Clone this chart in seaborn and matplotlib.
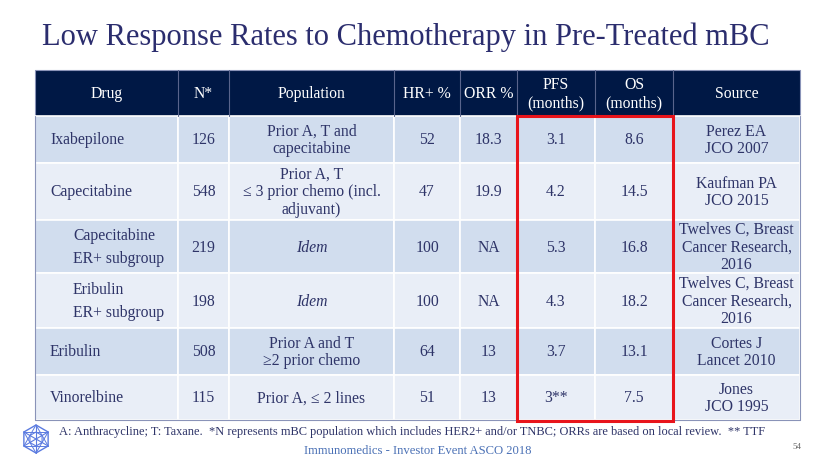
import numpy as np
import matplotlib.pyplot as plt
import seaborn as sns
from matplotlib.patches import Rectangle, RegularPolygon

sns.set_theme(style='white')
plt.rcParams['font.family'] = ['Liberation Serif', 'DejaVu Serif']

headers = ['Drug', 'N*', 'Population', 'HR+ %', 'ORR %', 'PFS\n(months)', 'OS\n(months)', 'Source']
drugs = ['Ixabepilone', 'Capecitabine', 'Capecitabine\nER+ subgroup', 'Eribulin\nER+ subgroup',
         'Eribulin', 'Vinorelbine']
subgroup = [False, False, True, True, False, False]
n_pts = ['126', '548', '219', '198', '508', '115']
population = ['Prior A, T and\ncapecitabine', 'Prior A, T\n\u2264 3 prior chemo (incl.\nadjuvant)',
              'Idem', 'Idem', 'Prior A and T\n\u22652 prior chemo', 'Prior A, \u2264 2 lines']
hr_pct = ['52', '47', '100', '100', '64', '51']
orr_pct = ['18.3', '19.9', 'NA', 'NA', '13', '13']
pfs = ['3.1', '4.2', '5.3', '4.3', '3.7', '3**']
os_months = ['8.6', '14.5', '16.8', '18.2', '13.1', '7.5']
source = ['Perez EA\nJCO 2007', 'Kaufman PA\nJCO 2015', 'Twelves C, Breast\nCancer Research,\n2016',
          'Twelves C, Breast\nCancer Research,\n2016', 'Cortes J\nLancet 2010', 'Jones\nJCO 1995']

col_edges = [35, 178, 229, 394, 460, 517, 595, 673, 800]
row_edges = [70, 116, 163, 220, 273, 328, 375, 420]

navy = '#001845'
text_c = '#2e3468'
row_colors = ['#d1ddee', '#e9eef7']
fs = 11.3

fig = plt.figure(figsize=(8.3, 4.67), dpi=100)
ax = fig.add_axes([0, 0, 1, 1])
ax.set_xlim(0, 830)
ax.set_ylim(467, 0)
ax.axis('off')

ax.text(42, 37, 'Low Response Rates to Chemotherapy in Pre-Treated mBC', fontsize=22.0,
        color='#2b2d6e', va='center', ha='left')

# header
ax.add_patch(Rectangle((col_edges[0], row_edges[0]), col_edges[-1] - col_edges[0],
                       row_edges[1] - row_edges[0], facecolor=navy, edgecolor='#8a93b8', lw=0.8))
for j, h in enumerate(headers):
    xc = (col_edges[j] + col_edges[j + 1]) / 2
    ax.text(xc, (row_edges[0] + row_edges[1]) / 2 + 1, h, color='white', fontsize=fs,
            ha='center', va='center', multialignment='center', linespacing=1.15)
    if j > 0:
        ax.plot([col_edges[j]] * 2, row_edges[:2], color='#59648c', lw=0.8)

# body rows
columns = [n_pts, population, hr_pct, orr_pct, pfs, os_months, source]
for i in range(len(drugs)):
    y0, y1 = row_edges[i + 1], row_edges[i + 2]
    yc = (y0 + y1) / 2 + 1
    for j in range(len(headers)):
        ax.add_patch(Rectangle((col_edges[j], y0), col_edges[j + 1] - col_edges[j], y1 - y0,
                               facecolor=row_colors[i % 2], edgecolor='white', lw=1.2))
    xd = 73 if subgroup[i] else 50
    ax.text(xd, yc, drugs[i], ha='left', va='center', fontsize=fs, color=text_c,
            multialignment='left', linespacing=1.6 if subgroup[i] else 1.15)
    for j, col in enumerate(columns, start=1):
        xc = (col_edges[j] + col_edges[j + 1]) / 2
        style = 'italic' if col[i] == 'Idem' else 'normal'
        ax.text(xc, yc, col[i], ha='center', va='center', fontsize=fs, color=text_c,
                style=style, multialignment='center', linespacing=1.12)

ax.plot([col_edges[0]] * 2, [row_edges[1], row_edges[-1]], color='#8a93b8', lw=0.8)
ax.plot([col_edges[-1]] * 2, [row_edges[1], row_edges[-1]], color='#8a93b8', lw=0.8)
ax.plot([col_edges[0], col_edges[-1]], [row_edges[-1]] * 2, color='#8a93b8', lw=0.8)

# red highlight around PFS / OS
ax.add_patch(Rectangle((col_edges[5], row_edges[1]), col_edges[7] - col_edges[5],
                       row_edges[-1] - row_edges[1] + 1, facecolor='none',
                       edgecolor='#e8141b', lw=2.2, zorder=5))

# footnotes
ax.text(59, 432, 'A: Anthracycline; T: Taxane.  *N represents mBC population which includes HER2+ '
        'and/or TNBC; ORRs are based on local review.  ** TTF', fontsize=8.95, color=text_c,
        ha='left', va='center')
ax.text(418, 451, 'Immunomedics - Investor Event ASCO 2018', fontsize=9.1, color='#4a70b5',
        ha='center', va='center')
ax.text(797, 447, '54', fontsize=6.5, color='#666666', ha='center', va='center')

# logo
lc = '#5b7be0'
cx, cy, r = 36, 439, 14
ax.add_patch(RegularPolygon((cx, cy), 6, radius=r, orientation=0, facecolor='none',
                            edgecolor=lc, lw=1.0))
ax.add_patch(RegularPolygon((cx, cy), 6, radius=r * 0.5, orientation=0, facecolor='none',
                            edgecolor=lc, lw=0.8))
ang = np.deg2rad(np.arange(6) * 60 + 30)
vx, vy = cx + r * np.cos(ang), cy + r * np.sin(ang)
for k in range(3):
    ax.plot([vx[k], vx[k + 3]], [vy[k], vy[k + 3]], color=lc, lw=0.8)
for k in range(6):
    ax.plot([vx[k], vx[(k + 2) % 6]], [vy[k], vy[(k + 2) % 6]], color=lc, lw=0.7)

fig.savefig('out.png', dpi=100)
